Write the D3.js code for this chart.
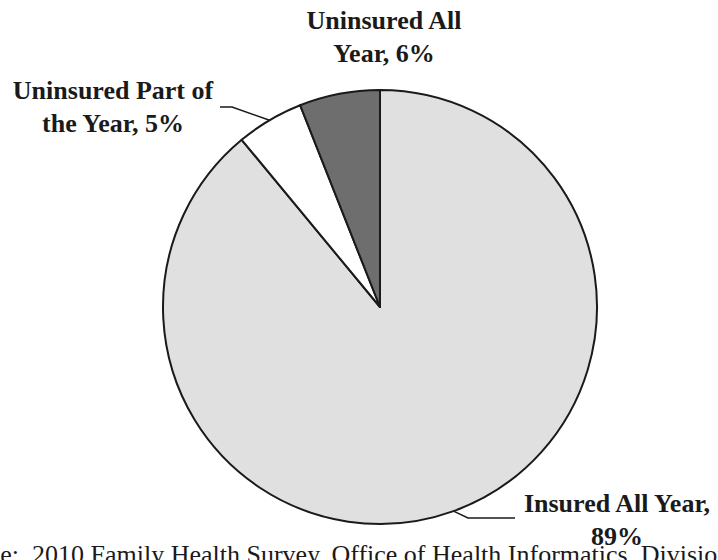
<!DOCTYPE html>
<html>
<head>
<meta charset="utf-8">
<script src="https://cdn.jsdelivr.net/npm/d3@7"></script>
<style>
  body { margin: 0; background: #fff; }
  svg { display: block; }
  text { font-family: "Liberation Serif", "Times New Roman", serif; }
</style>
</head>
<body>
<div id="chart"></div>
<script>
// data
var categories = ["Insured All Year", "Uninsured Part of the Year", "Uninsured All Year"];
var values = [89, 5, 6];
var labelLines = [["Insured All Year,", "89%"], ["Uninsured Part of", "the Year, 5%"], ["Uninsured All", "Year, 6%"]];
var sourceText = "Source:  2010 Family Health Survey, Office of Health Informatics, Division of Public Health";

var width = 718, height = 560;
var cx = 380, cy = 307, r = 217;

var svg = d3.select("#chart").append("svg")
    .attr("width", width)
    .attr("height", height);

var color = d3.scaleOrdinal()
    .domain(categories)
    .range(["#e0e0e0", "#ffffff", "#6e6e6e"]);

var pie = d3.pie().sort(null).value(function(d) { return d; });
var arc = d3.arc().innerRadius(0).outerRadius(r);
var arcs = pie(values);

var g = svg.append("g").attr("transform", "translate(" + cx + "," + cy + ")");

g.selectAll("path")
    .data(arcs)
    .enter().append("path")
    .attr("d", arc)
    .attr("fill", function(d, i) { return color(categories[i]); })
    .attr("stroke", "#1a1a1a")
    .attr("stroke-width", 2)
    .attr("stroke-linejoin", "round");

// label placement (x centre, first baseline) and leader lines
var labelPos = [[617, 512], [113, 99], [384, 29]];
var leaders = [
    { t: 0.5, pts: [[468, 518], [515, 518]] },
    { t: 0.5, pts: [[232, 107], [220, 107]] },
    null
];

leaders.forEach(function(ld, i) {
    if (!ld) return;
    var a = arcs[i];
    var ang = a.startAngle + (a.endAngle - a.startAngle) * ld.t;
    var p0 = [cx + r * Math.sin(ang), cy - r * Math.cos(ang)];
    svg.append("path")
        .attr("d", d3.line()([p0].concat(ld.pts)))
        .attr("fill", "none")
        .attr("stroke", "#1a1a1a")
        .attr("stroke-width", 1.5);
});

// source line, cut off at the edges like the original
var src = svg.append("text")
    .attr("font-size", 26)
    .attr("fill", "#1a1a1a")
    .attr("y", 563)
    .style("white-space", "pre")
    .text(sourceText);
var off = src.node().getSubStringLength(0, sourceText.indexOf("2010"));
src.attr("x", 32 - off);

labelLines.forEach(function(lines, i) {
    var t = svg.append("text")
        .attr("text-anchor", "middle")
        .attr("font-weight", "bold")
        .attr("font-size", 26)
        .attr("fill", "#1a1a1a");
    lines.forEach(function(s, j) {
        t.append("tspan")
            .attr("x", labelPos[i][0])
            .attr("y", labelPos[i][1] + j * 33)
            .text(s);
    });
});
</script>
</body>
</html>
